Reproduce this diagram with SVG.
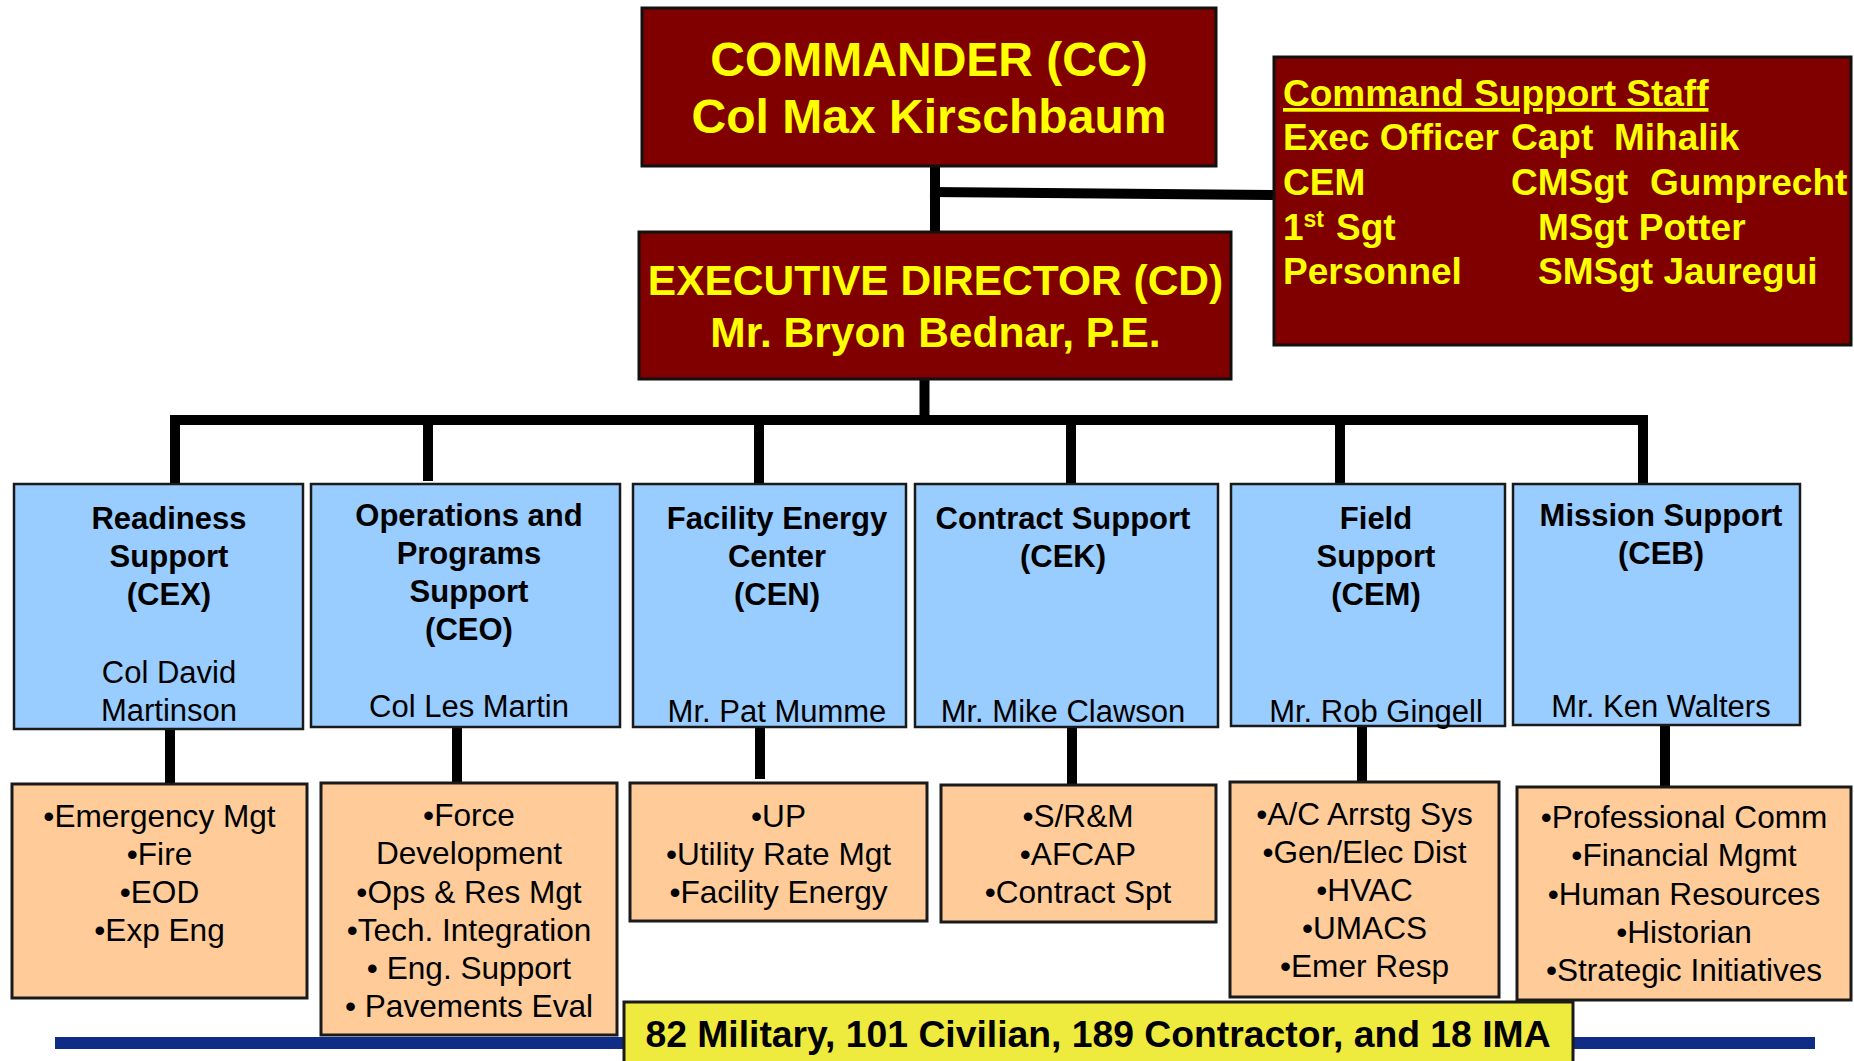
<svg xmlns="http://www.w3.org/2000/svg" width="1854" height="1061" viewBox="0 0 1854 1061">
<style>
.top{fill:#800000;stroke:#111;stroke-width:3}
.div{fill:#99CCFF;stroke:#1a1a1a;stroke-width:2.5}
.sub{fill:#FFCC99;stroke:#1a1a1a;stroke-width:3}
.yt{font-family:"Liberation Sans",Arial,sans-serif;font-weight:bold;fill:#FFFF00}
.ht{font-family:"Liberation Sans",Arial,sans-serif;font-weight:bold;font-size:31px;fill:#000;text-anchor:middle}
.nt{font-family:"Liberation Sans",Arial,sans-serif;font-size:31px;fill:#000;text-anchor:middle}
.ft{font-family:"Liberation Sans",Arial,sans-serif;font-size:31.6px;fill:#000;text-anchor:middle}
.conn line{stroke:#000;stroke-width:10;stroke-linecap:butt}
</style>
<rect width="1854" height="1061" fill="#fff"/>

<g id="connectors" class="conn">
  <line x1="935" y1="167" x2="935" y2="232"/>
  <line x1="930" y1="192" x2="1273" y2="195"/>
  <line x1="924.5" y1="380" x2="924.5" y2="420"/>
  <line x1="170" y1="420" x2="1648" y2="420"/>
  <line x1="175" y1="415" x2="175" y2="483"/>
  <line x1="428" y1="415" x2="428" y2="481"/>
  <line x1="759" y1="415" x2="759" y2="483"/>
  <line x1="1071" y1="415" x2="1071" y2="483"/>
  <line x1="1340" y1="415" x2="1340" y2="483"/>
  <line x1="1643" y1="415" x2="1643" y2="483"/>
  <line x1="170" y1="729" x2="170" y2="784"/>
  <line x1="457" y1="727" x2="457" y2="783"/>
  <line x1="760" y1="727" x2="760" y2="779"/>
  <line x1="1072" y1="727" x2="1072" y2="785"/>
  <line x1="1362" y1="727" x2="1362" y2="781"/>
  <line x1="1665" y1="725" x2="1665" y2="786"/>
</g>

<g id="commander">
  <rect class="top" x="642" y="8" width="574" height="158"/>
  <text class="yt" font-size="48" text-anchor="middle" x="929" y="76">COMMANDER (CC)</text>
  <text class="yt" font-size="48" text-anchor="middle" x="929" y="133">Col Max Kirschbaum</text>
</g>

<g id="executive-director">
  <rect class="top" x="639" y="232" width="592" height="147"/>
  <text class="yt" font-size="42.5" text-anchor="middle" x="935.5" y="295">EXECUTIVE DIRECTOR (CD)</text>
  <text class="yt" font-size="42.5" text-anchor="middle" x="935.5" y="347">Mr. Bryon Bednar, P.E.</text>
</g>

<g id="command-support-staff">
  <rect class="top" x="1274" y="57" width="577" height="288"/>
  <text class="yt" font-size="37" x="1283" y="106" text-decoration="underline">Command Support Staff</text>
  <text class="yt" font-size="37" y="150"><tspan x="1283">Exec Officer</tspan><tspan x="1511">Capt</tspan><tspan x="1614">Mihalik</tspan></text>
  <text class="yt" font-size="37" y="195"><tspan x="1283">CEM</tspan><tspan x="1511">CMSgt</tspan><tspan x="1650">Gumprecht</tspan></text>
  <text class="yt" font-size="37" y="240"><tspan x="1283">1</tspan><tspan font-size="23" dy="-13">st</tspan><tspan x="1336" dy="13">Sgt</tspan><tspan x="1538">MSgt Potter</tspan></text>
  <text class="yt" font-size="37" y="284"><tspan x="1283">Personnel</tspan><tspan x="1538">SMSgt Jauregui</tspan></text>
</g>

<g id="cex">
  <rect class="div" x="14" y="484" width="289" height="245"/>
  <text class="ht" x="169" y="529">Readiness</text>
  <text class="ht" x="169" y="567">Support</text>
  <text class="ht" x="169" y="605">(CEX)</text>
  <text class="nt" x="169" y="683">Col David</text>
  <text class="nt" x="169" y="721">Martinson</text>
</g>
<g id="ceo">
  <rect class="div" x="311" y="484" width="309" height="243"/>
  <text class="ht" x="469" y="526">Operations and</text>
  <text class="ht" x="469" y="564">Programs</text>
  <text class="ht" x="469" y="602">Support</text>
  <text class="ht" x="469" y="640">(CEO)</text>
  <text class="nt" x="469" y="717">Col Les Martin</text>
</g>
<g id="cen">
  <rect class="div" x="633" y="484" width="273" height="243"/>
  <text class="ht" x="777" y="529">Facility Energy</text>
  <text class="ht" x="777" y="567">Center</text>
  <text class="ht" x="777" y="605">(CEN)</text>
  <text class="nt" x="777" y="722">Mr. Pat Mumme</text>
</g>
<g id="cek">
  <rect class="div" x="915" y="484" width="303" height="243"/>
  <text class="ht" x="1063" y="529">Contract Support</text>
  <text class="ht" x="1063" y="567">(CEK)</text>
  <text class="nt" x="1063" y="722">Mr. Mike Clawson</text>
</g>
<g id="cem">
  <rect class="div" x="1231" y="484" width="274" height="242"/>
  <text class="ht" x="1376" y="529">Field</text>
  <text class="ht" x="1376" y="567">Support</text>
  <text class="ht" x="1376" y="605">(CEM)</text>
  <text class="nt" x="1376" y="722">Mr. Rob Gingell</text>
</g>
<g id="ceb">
  <rect class="div" x="1513" y="484" width="287" height="241"/>
  <text class="ht" x="1661" y="526">Mission Support</text>
  <text class="ht" x="1661" y="564">(CEB)</text>
  <text class="nt" x="1661" y="717">Mr. Ken Walters</text>
</g>

<g id="cex-functions">
  <rect class="sub" x="12" y="784" width="295" height="214"/>
  <text class="ft" x="159.5" y="827">•Emergency Mgt</text>
  <text class="ft" x="159.5" y="865">•Fire</text>
  <text class="ft" x="159.5" y="903">•EOD</text>
  <text class="ft" x="159.5" y="941">•Exp Eng</text>
</g>
<g id="ceo-functions">
  <rect class="sub" x="321" y="783" width="296" height="252"/>
  <text class="ft" x="469" y="826">•Force</text>
  <text class="ft" x="469" y="864">Development</text>
  <text class="ft" x="469" y="903">•Ops &amp; Res Mgt</text>
  <text class="ft" x="469" y="941">•Tech. Integration</text>
  <text class="ft" x="469" y="979">• Eng. Support</text>
  <text class="ft" x="469" y="1017">• Pavements Eval</text>
</g>
<g id="cen-functions">
  <rect class="sub" x="630" y="783" width="297" height="138"/>
  <text class="ft" x="778.5" y="827">•UP</text>
  <text class="ft" x="778.5" y="865">•Utility Rate Mgt</text>
  <text class="ft" x="778.5" y="903">•Facility Energy</text>
</g>
<g id="cek-functions">
  <rect class="sub" x="941" y="785" width="275" height="137"/>
  <text class="ft" x="1078" y="827">•S/R&amp;M</text>
  <text class="ft" x="1078" y="865">•AFCAP</text>
  <text class="ft" x="1078" y="903">•Contract Spt</text>
</g>
<g id="cem-functions">
  <rect class="sub" x="1230" y="782" width="269" height="215"/>
  <text class="ft" x="1364.5" y="825">•A/C Arrstg Sys</text>
  <text class="ft" x="1364.5" y="863">•Gen/Elec Dist</text>
  <text class="ft" x="1364.5" y="901">•HVAC</text>
  <text class="ft" x="1364.5" y="939">•UMACS</text>
  <text class="ft" x="1364.5" y="977">•Emer Resp</text>
</g>
<g id="ceb-functions">
  <rect class="sub" x="1517" y="787" width="334" height="213"/>
  <text class="ft" x="1684" y="828">•Professional Comm</text>
  <text class="ft" x="1684" y="866">•Financial Mgmt</text>
  <text class="ft" x="1684" y="905">•Human Resources</text>
  <text class="ft" x="1684" y="943">•Historian</text>
  <text class="ft" x="1684" y="981">•Strategic Initiatives</text>
</g>

<g id="footer">
  <rect x="55" y="1037" width="1760" height="12" fill="#0F2C86"/>
  <rect x="624" y="1002" width="949" height="62" fill="#EEEA3E" stroke="#1a1a1a" stroke-width="3"/>
  <text font-family="Liberation Sans,Arial,sans-serif" font-weight="bold" font-size="37.3" text-anchor="middle" x="1098" y="1047">82 Military, 101 Civilian, 189 Contractor, and 18 IMA</text>
</g>
</svg>
